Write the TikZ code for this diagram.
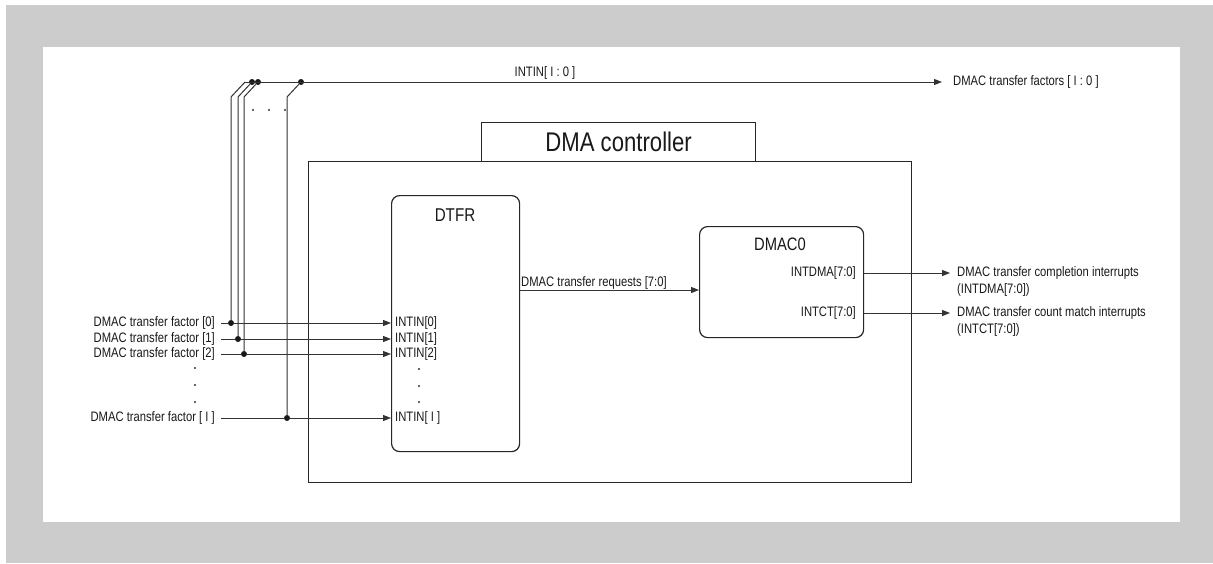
\documentclass[tikz,border=0pt]{standalone}
\usepackage{fontspec}
\setmainfont{Liberation Sans}[FakeStretch=0.82]
\usetikzlibrary{arrows.meta}
\begin{document}
\begin{tikzpicture}[x=1pt,y=-1pt,
  ln/.style={line width=1pt, draw=black!80},
  arr/.style={ln, -{Triangle[length=8pt,width=6pt]}},
  bigdot/.style={circle, fill=black!90, inner sep=0pt, minimum size=6pt},
  smalldot/.style={circle, fill=black!80, inner sep=0pt, minimum size=2.2pt},
  txt/.style={inner sep=0pt, font=\fontsize{13.7}{17}\selectfont, text=black!90},
  box/.style={draw=black!85, line width=1.2pt, fill=white, inner sep=0pt},
]
\useasboundingbox (0,0) rectangle (1213,563);
\fill[white] (0,0) rectangle (1213,563);
\fill[gray!40] (6,5) rectangle (1213,563);
\fill[white] (43,47) rectangle (1180,522);

% boxes
\node[box, minimum width=603pt, minimum height=321pt, anchor=north west] (ctrl) at (308,161) {};
\node[box, minimum width=274pt, minimum height=39pt, anchor=north west, text=black!90,
      font=\fontsize{27}{30}\selectfont] (title) at (481,122) {DMA controller};
\node[box, rounded corners=8pt, minimum width=128pt, minimum height=256pt, anchor=north west] (dtfr) at (391,195) {};
\node[txt, font=\fontsize{18.5}{20}\selectfont] (dtfrlbl) at (455,215) {DTFR};
\node[box, rounded corners=8pt, minimum width=164pt, minimum height=111pt, anchor=north west] (dmac) at (699,226) {};
\node[txt, font=\fontsize{18}{20}\selectfont] (dmaclbl) at (780,244) {DMAC0};
\node[txt, anchor=east] (intdma) at (856,273) {INTDMA[7:0]};
\node[txt, anchor=east] (intct) at (856,313) {INTCT[7:0]};

% input labels
\node[txt, anchor=east] (f0) at (215,323) {DMAC transfer factor [0]};
\node[txt, anchor=east] (f1) at (215,339) {DMAC transfer factor [1]};
\node[txt, anchor=east] (f2) at (215,354) {DMAC transfer factor [2]};
\node[txt, anchor=east] (fI) at (215,418) {DMAC transfer factor [ I ]};
\node[smalldot] (ld1) at (195,368) {};
\node[smalldot] (ld2) at (195,385) {};
\node[smalldot] (ld3) at (195,402) {};

\node[txt, anchor=west] (in0) at (395,323) {INTIN[0]};
\node[txt, anchor=west] (in1) at (395,339) {INTIN[1]};
\node[txt, anchor=west] (in2) at (395,354) {INTIN[2]};
\node[txt, anchor=west] (inI) at (395,418) {INTIN[ I ]};
\node[smalldot] (id1) at (419,369) {};
\node[smalldot] (id2) at (419,386) {};
\node[smalldot] (id3) at (419,402) {};

% junction dots
\node[bigdot] (d0) at (231,323) {};
\node[bigdot] (d1) at (238,339) {};
\node[bigdot] (d2) at (244,354) {};
\node[bigdot] (dI) at (287,418) {};
\node[bigdot] (bd1) at (252,82) {};
\node[bigdot] (bd2) at (258,82) {};
\node[bigdot] (bdI) at (301,82) {};
\coordinate (b0) at (245,82);
\coordinate (k0) at (231,97);
\coordinate (k1) at (238,97);
\coordinate (k2) at (244,97);
\coordinate (kI) at (287,97);
\node[smalldot] (td1) at (253,110) {};
\node[smalldot] (td2) at (269,110) {};
\node[smalldot] (td3) at (285,110) {};

% input lines
\draw[ln] ([xshift=6pt]f0.east) -- (d0);
\draw[arr] (d0) -- (dtfr.west |- d0);
\draw[ln] ([xshift=6pt]f1.east) -- (d1);
\draw[arr] (d1) -- (dtfr.west |- d1);
\draw[ln] ([xshift=6pt]f2.east) -- (d2);
\draw[arr] (d2) -- (dtfr.west |- d2);
\draw[ln] ([xshift=6pt]fI.east) -- (dI);
\draw[arr] (dI) -- (dtfr.west |- dI);

% risers to bus
\draw[ln] (d0) -- (k0) -- (b0);
\draw[ln] (d1) -- (k1) -- (bd1);
\draw[ln] (d2) -- (k2) -- (bd2);
\draw[ln] (dI) -- (kI) -- (bdI);

% top bus
\node[txt, anchor=west] (outtop) at (953,82) {DMAC transfer factors [ I : 0 ]};
\node[txt] (buslbl) at (545,73) {INTIN[ I : 0 ]};
\draw[arr] (b0) -- ([xshift=-11pt]outtop.west);

% requests
\node[txt, anchor=base west] (req) at (521,286) {DMAC transfer requests [7:0]};
\draw[arr] (dtfr.east |- 0,290) -- (dmac.west |- 0,290);

% outputs
\coordinate (o1) at (950,273);
\coordinate (o2) at (950,313);
\draw[arr] (dmac.east |- intdma) -- (o1);
\draw[arr] (dmac.east |- intct) -- (o2);
\node[txt, anchor=north west, align=left] (out1) at (957,266) {DMAC transfer completion interrupts\\(INTDMA[7:0])};
\node[txt, anchor=north west, align=left] (out2) at (957,306) {DMAC transfer count match interrupts\\(INTCT[7:0])};
\end{tikzpicture}
\end{document}
